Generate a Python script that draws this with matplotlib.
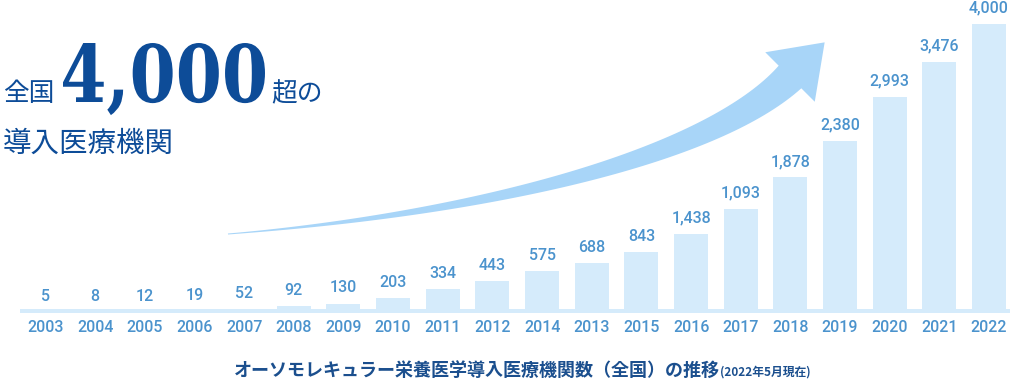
import numpy as np
import matplotlib
matplotlib.use('Agg')
import matplotlib.pyplot as plt
from matplotlib.patches import Polygon, Rectangle, PathPatch
from matplotlib.transforms import Affine2D
from matplotlib.textpath import TextPath
from matplotlib.font_manager import FontProperties

years = ['2003', '2004', '2005', '2006', '2007', '2008', '2009', '2010', '2011', '2012',
         '2014', '2013', '2015', '2016', '2017', '2018', '2019', '2020', '2021', '2022']
# bar heights as drawn
counts = [5, 8, 12, 19, 52, 92, 130, 203, 334, 443,
          575, 688, 843, 1093, 1438, 1878, 2380, 2993, 3476, 4000]
# numbers as printed above the bars (2016/2017 are swapped in the original)
value_labels = ['5', '8', '12', '19', '52', '92', '130', '203', '334', '443',
                '575', '688', '843', '1,438', '1,093', '1,878', '2,380', '2,993', '3,476', '4,000']

W, H = 1018, 382
BAR = '#d5ebfb'
LABEL = '#4b93cd'
ARROW = '#a8d5f8'
NAVY = '#0d4c98'
JP = ['Noto Sans CJK JP', 'DejaVu Sans']


def do_plot():
    fig = plt.figure(figsize=(W / 100, H / 100), dpi=100)
    # axes bottom sits on the baseline of the bars
    ax = fig.add_axes([0, 69 / H, 1, 313 / H])
    x = np.arange(len(years))
    ax.set_xlim(-45.5 / 49.66, (W - 45.5) / 49.66)
    ax.set_ylim(0, 4000 * 313 / 289)

    # thin base strip under all bars
    ax.add_patch(Rectangle((-0.52, 0), 19.95, 55, color=BAR, lw=0, clip_on=False))
    bars = ax.bar(x, counts, width=0.685, color=BAR, lw=0)
    ax.bar_label(bars, labels=value_labels, padding=6,
                 color=LABEL, fontsize=11.5, fontfamily='Roboto', fontweight='medium')

    ax.set_xticks(x)
    ax.set_xticklabels(years, color=LABEL, fontsize=11.5, fontfamily='Roboto',
                       fontweight='medium')
    ax.tick_params(axis='x', length=0, pad=5)
    ax.set_yticks([])
    for s in ax.spines.values():
        s.set_visible(False)
    ax.patch.set_alpha(0)

    # curved arrow, drawn in pixel space of the figure
    px = Affine2D().scale(1 / W, -1 / H).translate(0, 1) + fig.transFigure
    P0, P1 = np.array([228., 234.]), np.array([478., 214.])
    P2, P3 = np.array([710., 157.]), np.array([790., 77.])
    t = np.linspace(0, 1, 80)[:, None]
    B = (1 - t) ** 3 * P0 + 3 * (1 - t) ** 2 * t * P1 + 3 * (1 - t) * t ** 2 * P2 + t ** 3 * P3
    D = 3 * (1 - t) ** 2 * (P1 - P0) + 6 * (1 - t) * t * (P2 - P1) + 3 * t ** 2 * (P3 - P2)
    D = D / np.linalg.norm(D, axis=1, keepdims=True)
    N = np.column_stack([D[:, 1], -D[:, 0]])
    w = (1 + 31 * t[:, 0] ** 1.3)[:, None] / 2
    upper, lower = B + N * w, B - N * w
    d, n = D[-1], N[-1]
    head = [P3 + n * 35, P3 + d * 49, P3 - n * 35]
    pts = np.vstack([upper, head, lower[::-1]])
    fig.add_artist(Polygon(pts, closed=True, color=ARROW, lw=0, transform=px))

    # headline
    fig.text(3, 101, '全国', transform=px, fontsize=18.5, color=NAVY, family=JP,
             va='baseline')
    # big number, stretched to the box it fills in the original
    tp = TextPath((0, 0), '4,000', size=1,
                  prop=FontProperties(family='DejaVu Serif', weight='bold'))
    ext = tp.get_extents()
    sx = 202 / (ext.x1 - ext.x0)
    sy = 59 / ext.y1
    big = Affine2D().translate(-ext.x0, 0).scale(sx, -sy).translate(63, 102) + px
    fig.add_artist(PathPatch(tp, facecolor=NAVY, lw=0, transform=big))
    fig.text(271, 101, '超の', transform=px, fontsize=18.5, color=NAVY, family=JP,
             va='baseline')
    fig.text(3, 152, '導入医療機関', transform=px, fontsize=20.5, color=NAVY, family=JP,
             va='baseline')

    # caption
    fig.text(720, 376, 'オーソモレキュラー栄養医学導入医療機関数（全国）の推移', transform=px,
             fontsize=13, color='#1b4f8e', family=JP, fontweight='bold',
             ha='right', va='baseline')
    fig.text(720, 376, '(2022年5月現在)', transform=px, fontsize=8.5,
             color='#1b4f8e', family=JP, fontweight='bold', ha='left', va='baseline')

    fig.savefig('out.png', dpi=100)


if __name__ == '__main__':
    do_plot()
